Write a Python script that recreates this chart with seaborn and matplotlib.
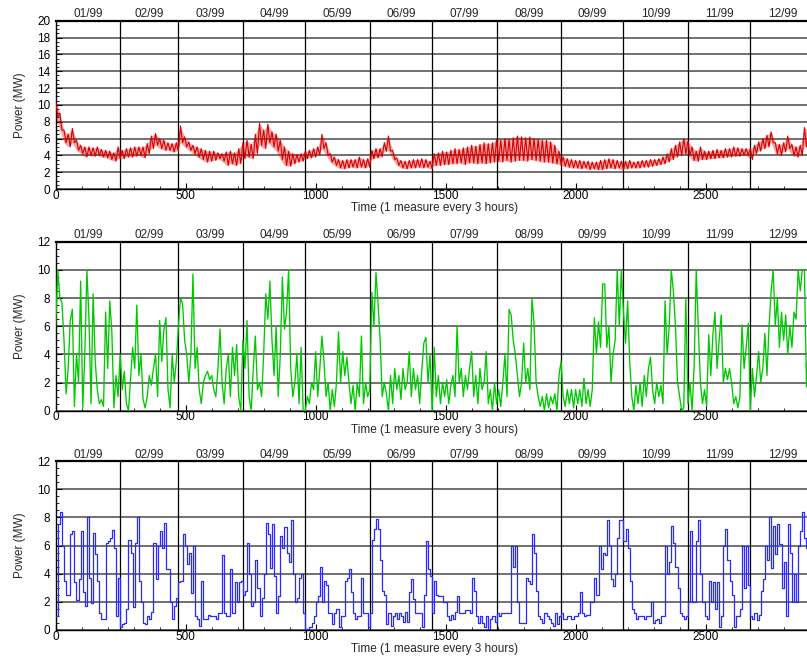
import numpy as np
import pandas as pd
import matplotlib
matplotlib.use("Agg")
import matplotlib.pyplot as plt
import seaborn as sns
from matplotlib.ticker import MultipleLocator

# ---------------- data ----------------
MONTH_DAYS = [31, 28, 31, 30, 31, 30, 31, 31, 30, 31, 30, 31]
MONTH_LABELS = ["01/99", "02/99", "03/99", "04/99", "05/99", "06/99",
                "07/99", "08/99", "09/99", "10/99", "11/99", "12/99"]
SAMPLES_PER_DAY = 8          # 1 measure every 3 hours
X_TICKS = [0, 500, 1000, 1500, 2000, 2500]

# top panel (red): 2-day low / high envelope of the 3-hourly signal (MW)
red_low = [8.5, 7, 5.5, 5, 5.5, 4.6, 4.2, 3.8, 4, 3.9,
           4, 3.8, 3.7, 3.5, 3.3, 3.6, 3.6, 3.8, 3.8, 3.9,
           4, 3.7, 4.2, 4.8, 5.2, 4.8, 4.6, 4.6, 4.4, 4.5,
           5.5, 5, 4.6, 4.2, 3.8, 3.5, 3.2, 3.3, 3.4, 3.6,
           3.3, 2.8, 3, 2.8, 3, 3.6, 3.8, 3.6, 4.2, 5.2,
           4.8, 5.5, 5, 4.5, 3.5, 2.8, 2.7, 3, 3.2, 3.3,
           3.6, 3.7, 3.8, 4, 4.8, 4, 3.2, 2.8, 2.5, 2.4,
           2.5, 2.6, 2.5, 2.6, 2.5, 2.6, 3.6, 3.7, 3.8, 4.5,
           4.5, 3.5, 2.8, 2.5, 2.4, 2.5, 2.5, 2.6, 2.5, 2.6,
           2.4, 2.8, 2.8, 2.9, 2.9, 3, 3, 3.1, 2.9, 3.1,
           3.1, 3, 3.1, 3, 3.1, 3.2, 3.3, 3.2, 3.4, 3.2,
           3.3, 3.4, 3.4, 3.3, 3.5, 3.4, 3.3, 3.2, 3.2, 3.1,
           3, 2.9, 2.7, 2.6, 2.5, 2.5, 2.4, 2.5, 2.3, 2.4,
           2.3, 2.3, 2.4, 2.5, 2.4, 2.5, 2.3, 2.4, 2.5, 2.5,
           2.5, 2.6, 2.6, 2.7, 2.8, 2.9, 3, 3.2, 3.5, 3.8,
           4, 4.2, 4, 3.4, 3.3, 3.5, 3.5, 3.6, 3.6, 3.7,
           3.7, 3.8, 3.8, 3.9, 3.9, 4, 4, 3.5, 4.2, 4.5,
           4.8, 5, 5.5, 4.2, 4, 4.4, 4.8, 4, 3.8, 4,
           5, 5.5, 5]
red_high = [10.5, 9, 7, 6.5, 7.2, 5.8, 5.2, 5, 5, 4.9,
            5, 4.7, 4.6, 4.5, 4.3, 5, 4.6, 4.8, 4.9, 5,
            5, 5, 5.4, 6.3, 6.6, 6, 5.8, 5.5, 5.4, 5.5,
            7.5, 6.2, 5.6, 5.2, 5, 4.8, 4.6, 4.5, 4.5, 4.3,
            4.2, 4.4, 4.5, 4.3, 4.8, 5.5, 5.8, 5.3, 6.5, 7.8,
            7, 7.7, 6.8, 6.5, 5.8, 5, 4.5, 4.2, 4.1, 4.2,
            4.5, 4.6, 4.8, 5, 6.5, 5.5, 4.2, 3.8, 3.5, 3.4,
            3.5, 3.5, 3.5, 3.8, 3.5, 3.6, 4.6, 4.8, 4.8, 5.5,
            6.3, 4.6, 3.7, 3.4, 3.3, 3.4, 3.5, 3.5, 3.6, 3.5,
            3.3, 4.2, 4.3, 4.5, 4.4, 4.6, 4.8, 4.7, 4.9, 5,
            5.2, 5.1, 5.3, 5.5, 5.4, 5.5, 5.9, 5.8, 6, 5.9,
            6.1, 6.3, 6.2, 6.1, 6.2, 6, 5.9, 5.8, 5.8, 5.6,
            5.2, 4.5, 3.8, 3.6, 3.5, 3.4, 3.4, 3.3, 3.3, 3.2,
            3.2, 3.4, 3.5, 3.6, 3.5, 3.4, 3.3, 3.3, 3.4, 3.2,
            3.3, 3.4, 3.4, 3.5, 3.5, 3.6, 3.8, 4.2, 4.8, 5.2,
            5.6, 6, 5.7, 5, 4.5, 5, 4.5, 4.5, 4.6, 4.7,
            4.6, 4.8, 4.8, 5, 4.9, 4.8, 4.8, 4.8, 5.2, 5.6,
            6, 6.4, 6.8, 5.5, 5.3, 5.5, 6.3, 5.3, 5, 5.2,
            7.3, 7, 6.5]

# middle panel (green): daily values per month (MW)
green_jan = [6, 10, 8, 7.7, 5, 1.2, 3, 6.4, 7.2, 0.3, 4, 2, 9.2, 0.2, 4, 10, 6.5, 0.5, 8.3, 3.5,
             1.5, 0.5, 0.8, 0.3, 7, 3, 7.8, 5.6, 0.2, 2.5, 1]
green_feb = [4, 1.5, 2.8, 0.5, 0, 2.2, 4.5, 3, 7.5, 2.5, 4, 0.8, 0.2, 1, 2.5, 1.8, 3, 4, 1, 6.4,
             3.5, 5.7, 6.6, 1.5, 0.2, 4, 2, 3.5]
green_mar = [6, 8, 7.6, 5, 4, 2, 4, 9.7, 3, 4.5, 1.5, 0.5, 2, 2.5, 2.8, 2.2, 2.5, 1.5, 1, 3,
             5.8, 2, 0.5, 3, 4, 1, 4.5, 2.5, 4.7, 1, 0]
green_apr = [5, 3, 6.4, 1, 0, 3, 5.3, 1.5, 2, 1, 4, 8.3, 6.5, 9.2, 5, 2.5, 6, 1, 4, 9.5,
             5.8, 7, 10, 3, 1, 2, 4, 0.5, 4.5, 0]
green_may = [0, 1, 0.5, 2, 1.5, 4.2, 1, 3, 5.3, 3.5, 1, 2, 0, 1.5, 0.3, 2, 5.6, 2, 4.2, 2.5,
             3.8, 2, 0.5, 1.8, 0, 2, 1, 5.3, 0.5, 2, 1]
green_jun = [1.5, 8.4, 6, 9.8, 7.6, 5, 1, 2, 1.2, 0, 2.5, 0.5, 3, 1.5, 2.5, 0.8, 3, 1.5, 2, 4.2,
             1, 3, 1.5, 2.5, 0.5, 2.8, 4.8, 5.2, 2, 4]
green_jul = [0, 4.5, 1, 2.5, 0.5, 2, 1, 2.2, 0.5, 1.8, 2.5, 1, 6, 2, 3, 1, 2.5, 1.5, 3, 4.2,
             1, 2.5, 0.5, 3, 1.5, 2, 4.2, 0.5, 1.5, 0, 2]
green_aug = [0.5, 1.5, 0.3, 2, 4, 1, 7.2, 6.8, 5, 4, 2.5, 1, 2, 4.8, 2, 3, 1.5, 8, 6.2, 2,
             1, 0.3, 1, 0, 1.2, 0.2, 1, 0.5, 1.2, 0, 2.5]
green_sep = [3.5, 1, 0.3, 1.5, 0.5, 1.5, 0.2, 1.5, 0.5, 1.5, 0.3, 2.3, 0.5, 1.5, 0.3, 1.5, 6.6, 4, 6.3, 4.5,
             9, 9, 4.5, 6, 2, 4, 5, 10, 6, 10]
green_oct = [7, 4.8, 7.8, 3.5, 1, 0, 1.8, 0.5, 2, 0.3, 2.5, 1, 3, 3.8, 1.5, 0.5, 2, 1, 1.8, 0.5,
             7.8, 4, 6, 10, 8.5, 6, 2, 1, 0, 0.2, 8]
green_nov = [0.5, 2, 0, 3.2, 10, 5.8, 2, 0.5, 1.5, 0.3, 5.4, 2.5, 5.4, 7, 3, 5, 6.8, 2, 3, 2.2,
             3, 2, 0.5, 1, 0.2, 1, 6.1, 3, 4.5, 6.2]
green_dec = [0, 3, 1, 2.5, 4.2, 2, 3, 5.5, 2.5, 6, 8.5, 10, 6, 8, 4.5, 7, 5, 6.8, 4, 6,
             4.5, 7, 6.5, 10, 8.5, 10, 10, 1.7, 5, 6, 4]

# bottom panel (blue): daily values per month (MW), step-like signal
blue_jan = [1, 7.5, 8.4, 6, 3.5, 2.5, 2.5, 6.8, 7, 3.4, 2.1, 3.6, 7, 2.7, 1.7, 8, 3.7, 1.9, 6.9, 5.4,
            3.5, 1.2, 0.8, 0.8, 6.2, 6.3, 6.5, 7.1, 5.8, 1, 3.7]
blue_feb = [0.2, 0.4, 0.5, 1.5, 6.4, 5.5, 1.6, 6.2, 8, 3.5, 2, 0.5, 0.4, 1, 0.8, 1.3, 6.2, 3.6, 6, 7,
            5.8, 7.6, 4.3, 4.3, 2, 0.8, 1.7, 2.3]
blue_mar = [3.4, 3.5, 6.8, 6, 4.7, 5.5, 2.6, 6, 1, 0.8, 0.3, 3.5, 0.8, 0.8, 1.1, 1, 1, 1, 0.8, 1.2,
            1.2, 5.3, 1.2, 1, 1, 4.3, 1.2, 3.4, 2, 3.4, 3.5]
blue_apr = [2.5, 2.8, 6.2, 4, 1.7, 2, 5, 3, 1, 2.3, 4, 7.6, 6.8, 4.4, 7.5, 3.8, 1.2, 2.4, 6.7, 5.8,
            7.3, 5.5, 4.8, 7.8, 4, 2, 2.3, 3.7, 4, 1.2]
blue_may = [0.1, 0.1, 0.2, 0.5, 1, 2, 2.4, 4.5, 2, 3.5, 3.2, 1.2, 1.2, 0.4, 1.2, 1.5, 0.2, 1, 1, 3.5,
            3.7, 4.3, 2.7, 1.2, 0.8, 1, 1, 3.7, 1.2, 1.2, 0.2]
blue_jun = [1.2, 6.4, 7.2, 7.9, 7.2, 5, 2.8, 2.5, 0.4, 1.2, 0.3, 1, 1.2, 0.8, 1.2, 1, 0.6, 1.3, 0.6, 2.7,
            3.6, 2.2, 1.2, 1.2, 1.2, 0.2, 2.5, 6.3, 4.3, 3.8]
blue_jul = [1.2, 3.5, 2.5, 2.4, 2.4, 2, 2, 1, 0.7, 1.1, 0.8, 1.3, 2.4, 1.2, 1.2, 1.2, 1.4, 1.4, 1.2, 3.7,
            2.8, 1, 0.5, 1, 0.5, 0.2, 1, 0.1, 0.8, 1, 0.6]
blue_aug = [1.2, 1, 1.2, 1.2, 1.2, 1.2, 1.2, 6, 4.5, 6, 2, 0.5, 0.5, 0.5, 3.7, 3.5, 3.3, 6.8, 5.5, 2.8,
            1, 0.8, 0.5, 1.2, 1, 0.8, 0.5, 0.3, 1.2, 0.4, 1]
blue_sep = [1.2, 0.8, 0.8, 1, 1, 0.8, 1, 1, 1.2, 2.7, 1.2, 1, 1.1, 1.1, 2, 2, 3.7, 2.5, 6, 4.3,
            5.5, 5.3, 7.8, 6, 3.6, 3.1, 4, 6.5, 7.8, 7.8]
blue_oct = [6.3, 7.2, 5.8, 3.5, 1.5, 1.2, 0.8, 1, 1, 1, 0.8, 1, 1, 2, 0.5, 0.7, 0.8, 0.5, 1, 1,
            6, 4, 4.8, 7.4, 6.2, 4.5, 3, 1.2, 1, 0.8, 1]
blue_nov = [2, 7, 2, 2, 6.3, 7.8, 4, 2, 1, 0.8, 3.5, 2, 3.4, 1.5, 3.4, 0.2, 1, 6, 7.2, 5,
            3.5, 2.5, 0.2, 1, 1, 1.5, 6, 3, 6, 3.2]
blue_dec = [1, 0.8, 1.2, 0.7, 1.1, 2.8, 3.6, 6, 5, 8, 4.4, 7.4, 5.4, 7.5, 6.1, 3, 4.8, 1, 7.5, 5.5,
            2, 4, 2, 6, 7, 8.4, 6.5, 5.8, 7.5, 6, 5]

green_months = [green_jan, green_feb, green_mar, green_apr, green_may, green_jun,
                green_jul, green_aug, green_sep, green_oct, green_nov, green_dec]
blue_months = [blue_jan, blue_feb, blue_mar, blue_apr, blue_may, blue_jun,
               blue_jul, blue_aug, blue_sep, blue_oct, blue_nov, blue_dec]

# ---------------- helpers ----------------
month_start_day = np.concatenate([[0], np.cumsum(MONTH_DAYS)[:-1]])
month_bounds = np.cumsum(MONTH_DAYS)[:-1] * SAMPLES_PER_DAY
month_centers = (month_start_day + np.array(MONTH_DAYS) / 2.0) * SAMPLES_PER_DAY


def monthly_frame(months):
    xs, ys = [], []
    for start, vals in zip(month_start_day, months):
        xs.append((start + np.arange(len(vals))) * SAMPLES_PER_DAY)
        ys.append(np.asarray(vals, dtype=float))
    return pd.DataFrame({"t": np.concatenate(xs), "p": np.concatenate(ys)})


ENV_STEP = 2 * SAMPLES_PER_DAY
n_env = min(len(red_low), len(red_high))
env_t = np.arange(n_env) * ENV_STEP
red_env = pd.DataFrame({"t": env_t,
                        "low": np.asarray(red_low[:n_env], dtype=float),
                        "high": np.asarray(red_high[:n_env], dtype=float)})
zz_t = np.empty(2 * n_env)
zz_p = np.empty(2 * n_env)
zz_t[0::2] = env_t
zz_t[1::2] = env_t + ENV_STEP / 2
zz_p[0::2] = red_env["high"].values
zz_p[1::2] = red_env["low"].values
red_df = pd.DataFrame({"t": zz_t, "p": zz_p})
green_df = monthly_frame(green_months)
blue_df = monthly_frame(blue_months)

# ---------------- figure ----------------
sns.set_style("white")
plt.rcParams['font.family'] = ['Liberation Sans', 'DejaVu Sans']
plt.rcParams['font.size'] = 8.5

W, H = 807, 657
fig = plt.figure(figsize=(W / 100, H / 100), dpi=100)
left_px = 55.7
XMAX = 2890

panels = [
    dict(df=red_df, color="#d80000", ymax=20, top=20.7, bot=189.0, steps=False, lw=0.8, band=True),
    dict(df=green_df, color="#00c800", ymax=12, top=241.7, bot=410.7, steps=False, lw=0.95, band=False),
    dict(df=blue_df, color="#2a2aff", ymax=12, top=461.0, bot=630.0, steps=True, lw=0.9, band=False),
]

for pnl in panels:
    hpx = pnl["bot"] - pnl["top"]
    ax = fig.add_axes([left_px / W, 1 - pnl["bot"] / H, 1 - left_px / W, hpx / H])
    if pnl["band"]:
        ax.fill_between(red_env["t"], red_env["low"], red_env["high"],
                        color=pnl["color"], alpha=0.35, linewidth=0, zorder=2)
    kw = dict(drawstyle="steps-post") if pnl["steps"] else {}
    sns.lineplot(data=pnl["df"], x="t", y="p", ax=ax, color=pnl["color"],
                 linewidth=pnl["lw"], estimator=None, sort=False, zorder=3, **kw)
    ax.set_xlim(0, XMAX)
    ax.set_ylim(0, pnl["ymax"])
    ax.xaxis.set_major_locator(plt.FixedLocator(X_TICKS))
    ax.xaxis.set_minor_locator(MultipleLocator(100))
    ax.yaxis.set_major_locator(MultipleLocator(2))
    ax.yaxis.set_minor_locator(MultipleLocator(0.5))
    ax.tick_params(axis="both", which="both", direction="in", labelsize=8.5,
                   colors="black", bottom=True, left=True, top=False, right=False)
    ax.tick_params(axis="both", which="major", length=4, width=0.8)
    ax.tick_params(axis="both", which="minor", length=2.5, width=0.6)
    ax.tick_params(axis="x", pad=0.5)
    ax.tick_params(axis="y", pad=4)
    ax.yaxis.grid(True, which="major", color="#4a4a4a", linewidth=1.1)
    ax.xaxis.grid(False)
    ax.set_axisbelow(True)
    for x in month_bounds:
        ax.axvline(x, color="black", linewidth=0.9, zorder=1.5)
    for sp in ["left", "bottom", "top"]:
        ax.spines[sp].set_visible(True)
        ax.spines[sp].set_color("black")
    ax.spines["top"].set_linewidth(1.6)
    ax.spines["left"].set_linewidth(1.0)
    ax.spines["bottom"].set_linewidth(1.0)
    ax.spines["right"].set_visible(False)
    for c, lab in zip(month_centers, MONTH_LABELS):
        ax.annotate(lab, xy=(c, 1.0), xycoords=("data", "axes fraction"),
                    xytext=(0, 0.3), textcoords="offset points",
                    ha="center", va="bottom", fontsize=8.5)
    ax.set_ylabel("Power (MW)", fontsize=8.5, labelpad=8)
    ax.set_xlabel("Time (1 measure every 3 hours)", fontsize=8.5)
    ax.xaxis.set_label_coords((435 - left_px) / (W - left_px), -13.0 / hpx)
    ax.xaxis.label.set_va("top")

fig.savefig("out.png", dpi=100)
